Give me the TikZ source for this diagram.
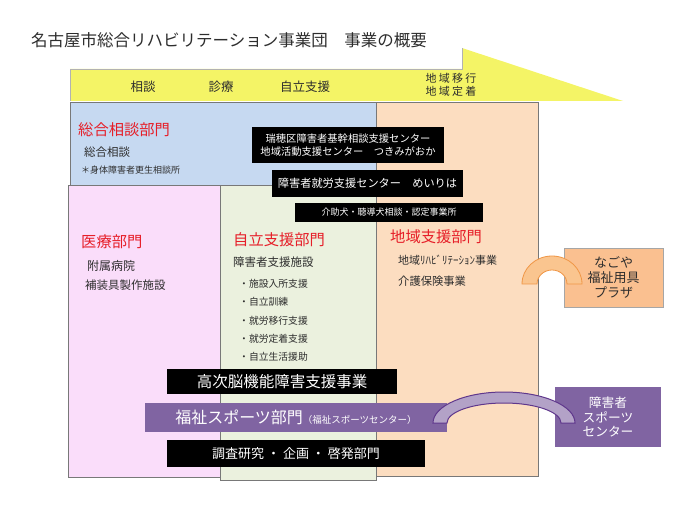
\documentclass[tikz,border=0pt]{standalone}
\usepackage{fontspec}
\setmainfont{Noto Sans CJK JP}
\definecolor{bannerY}{RGB}{244,244,102}
\definecolor{boxBlue}{RGB}{198,217,241}
\definecolor{boxPeach}{RGB}{252,221,192}
\definecolor{boxPink}{RGB}{250,221,250}
\definecolor{boxGreen}{RGB}{235,241,222}
\definecolor{deptRed}{RGB}{230,30,40}
\definecolor{txtGray}{RGB}{45,45,45}
\definecolor{purpleMain}{RGB}{128,100,162}
\definecolor{purpleLight}{RGB}{179,162,199}
\definecolor{purpleDark}{RGB}{95,55,140}
\definecolor{orangeBox}{RGB}{250,192,144}
\definecolor{orangeArc}{RGB}{250,197,143}
\definecolor{orangeEdge}{RGB}{240,150,70}
\definecolor{edgeGray}{RGB}{120,120,120}
\begin{document}
\begin{tikzpicture}[x=1pt,y=-1pt,
  area/.style={draw=edgeGray,line width=1pt},
  dept/.style={anchor=west,inner sep=0pt,text=deptRed,font=\fontsize{15.3}{17}\selectfont},
  item/.style={anchor=west,inner sep=0pt,text=txtGray},
  blackbox/.style={fill=black,text=white,inner sep=0pt,align=center},
  bannertxt/.style={inner sep=0pt,text=txtGray,font=\fontsize{12.5}{14}\selectfont}]
\useasboundingbox (0,0) rectangle (690,518);
% title
\node[anchor=west,inner sep=0pt,text=txtGray,font=\fontsize{16.5}{18}\selectfont] (title) at (31,40) {名古屋市総合リハビリテーション事業団　事業の概要};
% banner
\fill[bannerY] (70,69) -- (462,69) -- (462,48) -- (623,101) -- (70,101) -- cycle;
\draw[gray!60,line width=0.8pt] (70,101) -- (70,69) -- (462,69) -- (462,48);
\node[bannertxt] (b1) at (143,87) {相談};
\node[bannertxt] (b2) at (221,87) {診療};
\node[bannertxt] (b3) at (305,87) {自立支援};
\node[bannertxt,align=center,font=\fontsize{11}{12.5}\selectfont\addfontfeature{LetterSpace=20}] (b4) at (451,85) {地域移行\\地域定着};
% areas
\filldraw[area,fill=boxBlue] (70,103) rectangle (376,186);
\filldraw[area,fill=boxPeach] (376,103) rectangle (538,476);
\filldraw[area,fill=boxPink] (68,186) rectangle (220,477);
\filldraw[area,fill=boxGreen] (220,186) rectangle (376,480);
% blue area texts
\node[dept] (d1) at (78,130) {総合相談部門};
\node[item,font=\fontsize{11.5}{13}\selectfont] (t11) at (84,152) {総合相談};
\node[item,font=\fontsize{9}{10}\selectfont] (t12) at (81,170) {＊身体障害者更生相談所};
% pink
\node[dept] (d2) at (81,242) {医療部門};
\node[item,font=\fontsize{12}{13}\selectfont] (t21) at (87,266) {附属病院};
\node[item,font=\fontsize{11.5}{13}\selectfont] (t22) at (85,285) {補装具製作施設};
% green
\node[dept] (d3) at (233,240) {自立支援部門};
\node[item,font=\fontsize{11.5}{13}\selectfont] (t31) at (233,262) {障害者支援施設};
\node[item,font=\fontsize{9.8}{11}\selectfont] (t32) at (239,284) {・施設入所支援};
\node[item,font=\fontsize{9.8}{11}\selectfont] (t33) at (239,302) {・自立訓練};
\node[item,font=\fontsize{9.8}{11}\selectfont] (t34) at (239,321) {・就労移行支援};
\node[item,font=\fontsize{9.8}{11}\selectfont] (t35) at (239,339) {・就労定着支援};
\node[item,font=\fontsize{9.8}{11}\selectfont] (t36) at (239,357) {・自立生活援助};
% peach
\node[dept] (d4) at (390,237) {地域支援部門};
\node[item,font=\fontsize{11}{12}\selectfont] (t41) at (398,260) {地域ﾘﾊﾋﾞﾘﾃｰｼｮﾝ事業};
\node[item,font=\fontsize{11.3}{12}\selectfont] (t42) at (398,281) {介護保険事業};
% black boxes
\node[blackbox,minimum width=192pt,minimum height=36pt,font=\fontsize{10.3}{13.5}\selectfont] (k1) at (348,145) {瑞穂区障害者基幹相談支援センター\\地域活動支援センター　つきみがおか};
\node[blackbox,minimum width=191pt,minimum height=27pt,font=\fontsize{11.2}{13}\selectfont] (k2) at (367.5,183.5) {障害者就労支援センター　めいりは};
\node[blackbox,minimum width=188pt,minimum height=19pt,font=\fontsize{9}{10}\selectfont] (k3) at (389,212.5) {介助犬・聴導犬相談・認定事業所};
\node[blackbox,minimum width=230pt,minimum height=25pt,font=\fontsize{15.5}{17}\selectfont] (k4) at (282,381.5) {高次脳機能障害支援事業};
\node[fill=purpleMain,text=white,inner sep=0pt,minimum width=302pt,minimum height=29pt] (k5) at (296,417.5) {{\fontsize{16}{18}\selectfont 福祉スポーツ部門}{\fontsize{9.5}{10}\selectfont（福祉スポーツセンター）}};
\node[blackbox,minimum width=258pt,minimum height=27pt,font=\fontsize{13}{15}\selectfont] (k6) at (296,453.5) {調査研究 ・ 企画 ・ 啓発部門};
% right side boxes
\node[fill=orangeBox,draw=gray!70,line width=0.8pt,inner sep=0pt,minimum width=99pt,minimum height=59pt,align=center,text=txtGray,font=\fontsize{13}{15}\selectfont] (plaza) at (613.5,277.5) {なごや\\福祉用具\\プラザ};
\node[fill=purpleMain,inner sep=0pt,minimum width=106pt,minimum height=60pt,align=center,text=white,font=\fontsize{12.7}{14.5}\selectfont] (sports) at (608,417) {障害者\\スポーツ\\センター};
% arcs
\filldraw[fill=orangeArc,draw=orangeEdge,line width=0.8pt] (522,284) arc[start angle=180,end angle=360,x radius=30,y radius=28] -- (567,284) arc[start angle=0,end angle=-180,x radius=15,y radius=14] -- cycle;
\filldraw[fill=purpleLight,draw=purpleDark,line width=1pt] (433,423) arc[start angle=180,end angle=360,x radius=71,y radius=31] -- (561,423) arc[start angle=0,end angle=-180,x radius=57,y radius=20] -- cycle;
\end{tikzpicture}
\end{document}
